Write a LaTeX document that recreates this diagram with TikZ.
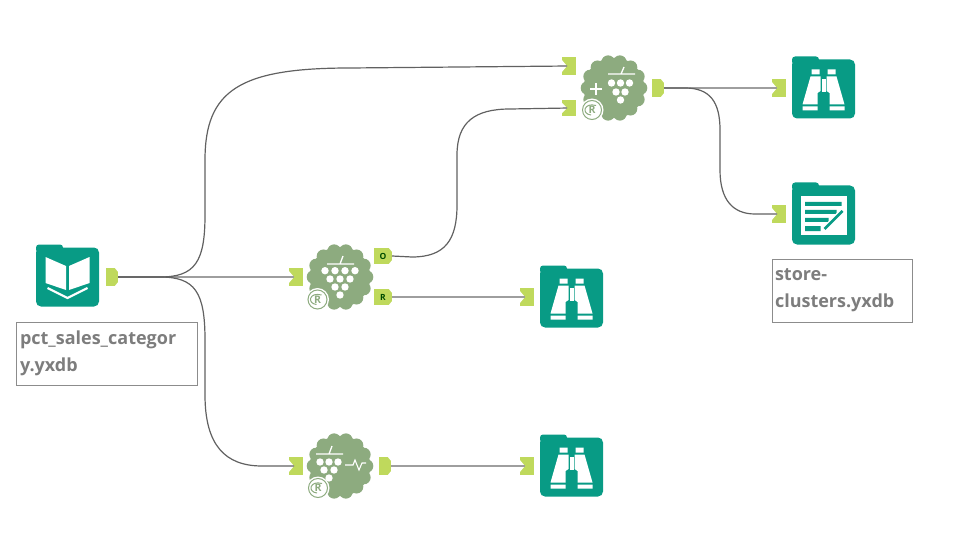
\documentclass[tikz,border=0pt]{standalone}
\usepackage{fontspec}
\setmainfont{Open Sans}
\usetikzlibrary{positioning}
\definecolor{folderteal}{RGB}{8,155,133}
\definecolor{toolgreen}{RGB}{141,171,127}
\definecolor{portgreen}{RGB}{191,217,92}
\definecolor{labelgrey}{RGB}{125,125,125}
\newcommand{\berries}[1]{\foreach \bx/\by in {#1} \fill[white] (\bx,\by) circle (3.7);}
\tikzset{
  folderbox/.style={rectangle, fill=folderteal, rounded corners=5pt, minimum width=63pt, minimum height=59pt, inner sep=0pt, outer sep=0pt},
  toolblob/.style={circle, fill=toolgreen, minimum size=60.5pt, inner sep=0pt},
  inport/.style={rectangle, fill=portgreen, minimum width=14pt, minimum height=18pt, inner sep=0pt, outer sep=0pt,
    path picture={\fill[white] ([xshift=-1pt,yshift=-2pt]path picture bounding box.north west) -- ([xshift=5pt]path picture bounding box.west) -- ([xshift=-1pt,yshift=2pt]path picture bounding box.south west) -- cycle;}},
  outport/.style={rectangle, fill=portgreen, minimum width=12pt, minimum height=18pt, inner sep=0pt, outer sep=0pt, text=black!70!green, font=\bfseries\fontsize{8.5}{9}\selectfont,
    path picture={\fill[white] ([xshift=-4pt,yshift=1pt]path picture bounding box.north east) -- ([xshift=1pt,yshift=1pt]path picture bounding box.north east) -- ([xshift=1pt,yshift=-5pt]path picture bounding box.north east) -- cycle;
    \fill[white] ([xshift=-4pt,yshift=-1pt]path picture bounding box.south east) -- ([xshift=1pt,yshift=-1pt]path picture bounding box.south east) -- ([xshift=1pt,yshift=5pt]path picture bounding box.south east) -- cycle;}},
  labelbox/.style={rectangle, draw=black!45, line width=0.8pt, align=left, text=labelgrey, inner sep=0pt, font=\fontsize{18}{27}\selectfont\bfseries},
  rbadge/.style={circle, fill=white, draw=toolgreen, line width=1pt, minimum size=19pt, inner sep=0pt, text=toolgreen, font=\bfseries\fontsize{10.5}{11}\selectfont},
  wire/.style={draw=black!38, line width=2.2pt},
  curvewire/.style={draw=black!62, line width=1.2pt},
  pics/scallop/.style={code={\foreach \a in {0,...,13} \fill[toolgreen] ({\a*25.714}:26.5) circle (6.8);}},
  pics/rring/.style={code={\fill[white] (0,0) circle (11.5);}},
  pics/rswoosh/.style={code={\draw[toolgreen, line width=1pt] (4,-4.5) .. controls (-8,-8) and (-11,4) .. (-1,5);}},
  pics/bookicon/.style={code={
    \fill[white] (-22,-20) -- (-1.5,-11) -- (-1.5,13) -- (-22,6) -- cycle;
    \fill[white] (22,-20) -- (1.5,-11) -- (1.5,13) -- (22,6) -- cycle;
    \draw[white, line width=2.2pt] (-20,11) -- (0,21) -- (20,11);}},
  pics/binocicon/.style={code={
    \fill[white] (-12,-19.5) rectangle (-4,-14.5) (4,-19.5) rectangle (12,-14.5);
    \fill[white] (-13,-12.5) -- (-3,-12.5) -- (-3,2) -- (-6,4) -- (-6,15.5) -- (-21,15.5) -- cycle;
    \fill[white] (13,-12.5) -- (3,-12.5) -- (3,2) -- (6,4) -- (6,15.5) -- (21,15.5) -- cycle;
    \fill[white] (-2,-10) rectangle (2,3);
    \fill[white] (-21,17.5) rectangle (-6,21.5) (6,17.5) rectangle (21,21.5);}},
  pics/noteicon/.style={code={
    \fill[white] (-22.5,-19) rectangle (23,20);
    \fill[folderteal] (-18.5,-13) rectangle (18,-9) (-18.5,-5) rectangle (13,-1) (-18.5,3) rectangle (5,7) (-18.5,11) rectangle (-3,16);
    \draw[white, line width=6pt] (20,-5) -- (1,15);
    \draw[folderteal, line width=2.6pt] (19,-4) -- (1,14);}},
  pics/grapeone/.style={code={
    \draw[white, line width=1.3pt] (-13,-13) -- (14,-13) (0,-13) -- (3,-21);
    \berries{-15/-6.3,-5/-6.3,5/-6.3,15/-6.3,-10/2,0/2,10/2,-5/10,5/10,0/18}}},
  pics/grapeplus/.style={code={
    \draw[white, line width=1.3pt] (-6,-14) -- (21,-14) (7,-14) -- (10,-21);
    \berries{-2.5/-5,6.5/-5,15.5/-5,2/4,11/4,6.5/12}
    \draw[white, line width=2.6pt] (-24,1) -- (-12,1) (-18,-5) -- (-18,7);}},
  pics/grapewave/.style={code={
    \draw[white, line width=1.3pt] (-24,-12) -- (3,-12) (-11,-12) -- (-8,-20);
    \berries{-20/-4,-11/-4,-2/-4,-16/4,-6/4,-11/12}
    \draw[white, line width=1.1pt] (5,-1) -- (13,-1) -- (15,-6) -- (19,4) -- (22,-3) -- (26,-3);}}
}
\begin{document}
\begin{tikzpicture}[x=1pt, y=-1pt]
\useasboundingbox (0,0) rectangle (965,553);
% folders
\node [folderbox] (bookfolder) at (67.5,277) {};
\node [folderbox] (binoctop) at (823.5,89) {};
\node [folderbox] (notefolder) at (823.5,215) {};
\node [folderbox] (binocmid) at (571.5,298) {};
\node [folderbox] (binocbottom) at (571.5,467) {};
\foreach \f in {bookfolder,binoctop,notefolder,binocmid,binocbottom}
  \fill[folderteal, rounded corners=3pt] ([yshift=3pt]\f.north west) -- ++(0,8) -- ++(27,0) -- ++(0,-8) -- cycle;
\pic at (bookfolder) {bookicon};
\pic at (binoctop) {binocicon};
\pic at (notefolder) {noteicon};
\pic at (binocmid) {binocicon};
\pic at (binocbottom) {binocicon};
% tools
\node [toolblob] (clustermain) at (340,277) {};
\node [toolblob] (clusterappend) at (614,88) {};
\node [toolblob] (clustervalid) at (340,466) {};
\pic at (clustermain) {scallop};
\pic at (clusterappend) {scallop};
\pic at (clustervalid) {scallop};
\pic at (clustermain) {grapeone};
\pic at (clusterappend) {grapeplus};
\pic at (clustervalid) {grapewave};
\pic at (317.5,299.5) {rring};
\pic at (592,110) {rring};
\pic at (318,488) {rring};
\node [rbadge] (rmain) at (317.5,299.5) {R};
\node [rbadge] (rappend) at (592,110) {R};
\node [rbadge] (rvalid) at (318,488) {R};
\pic at (rmain) {rswoosh};
\pic at (rappend) {rswoosh};
\pic at (rvalid) {rswoosh};
% ports
\node [outport] (bookout) at (112,277) {};
\node [inport] (mainin) at (296,277) {};
\node [outport, minimum width=18pt, minimum height=16pt] (mainO) at (383,256) {O};
\node [outport, minimum width=18pt, minimum height=16pt] (mainR) at (383,297) {R};
\node [inport] (appendtop) at (569,66) {};
\node [inport, minimum height=16pt] (appendlow) at (569,108) {};
\node [outport] (appendout) at (658,88) {};
\node [inport] (validin) at (296,466) {};
\node [outport] (validout) at (385,466) {};
\node [inport] (binocmidin) at (527,297) {};
\node [inport] (binocbottomin) at (527,466) {};
\node [inport] (binoctopin) at (779,88) {};
\node [inport] (notein) at (779,214) {};
% connectors
\draw [wire, shorten >=2pt] (bookout.east) -- (mainin.center);
\draw [wire, shorten >=2pt] (mainR.east) -- (binocmidin.center);
\draw [wire, shorten >=2pt] (validout.east) -- (binocbottomin.center);
\draw [wire, shorten >=2pt] (appendout.east) -- (binoctopin.center);
\draw [curvewire, shorten >=2pt] (bookout.east) -- (160,277) .. controls (195,277) and (205,262) .. (205,215) -- (205,160) .. controls (205,90) and (240,68) .. (350,68) -- (appendtop.center);
\draw [curvewire, shorten >=2pt] (bookout.east) -- (160,277) .. controls (195,277) and (205,292) .. (205,340) -- (205,395) .. controls (205,445) and (225,466) .. (262,466) -- (validin.center);
\draw [curvewire, shorten >=2pt] (mainO.east) -- (412,257) .. controls (445,257) and (457,240) .. (457,205) -- (457,155) .. controls (457,122) and (475,109) .. (510,109) -- (appendlow.center);
\draw [curvewire, shorten >=2pt] (appendout.east) -- (685,88) .. controls (710,88) and (720,102) .. (720,130) -- (720,170) .. controls (720,200) and (733,214) .. (755,214) -- (notein.center);
% labels
\node [labelbox, minimum width=181pt, minimum height=63pt, text width=173pt] (booklabel) at (106.5,353.5) {pct\_sales\_categor\\y.yxdb};
\node [labelbox, minimum width=140pt, minimum height=63pt, text width=134pt] (notelabel) at (842,290.5) {store-\\clusters.yxdb};
\end{tikzpicture}
\end{document}
